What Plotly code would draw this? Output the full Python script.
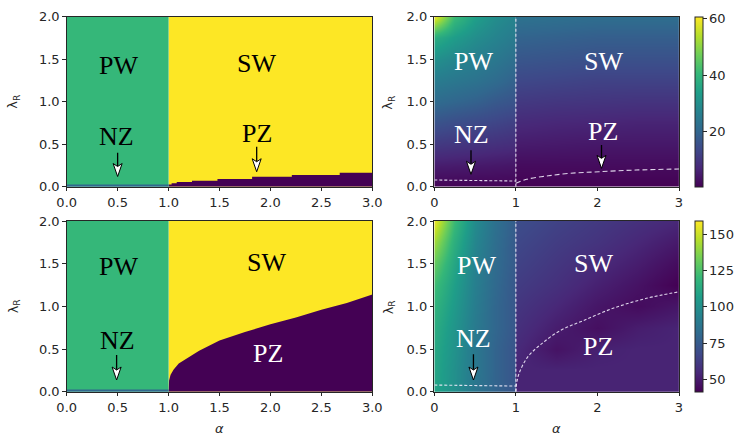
import plotly.graph_objects as go

W, H = 740, 436

# ---- parameter space -------------------------------------------------------
ALPHA_MAX = 3.0
LAM_MAX = 2.0
ALPHA_C = 1.0          # critical alpha separating PW / SW
NZ_TOP = 0.025         # thin NZ strip along lambda_R = 0 for alpha < 1

# phase colours (viridis samples for the 4 phases)
C_PZ, C_NZ, C_PW, C_SW = "#440154", "#31688e", "#35b779", "#fde725"

# PZ / SW boundary, weak coupling case (upper row)
pz_top_alpha = [1.0, 1.03, 1.08, 1.23, 1.48, 1.82, 2.21, 2.68, 3.0]
pz_top_lam = [0.027, 0.04, 0.055, 0.071, 0.091, 0.118, 0.138, 0.165, 0.165]

# PZ / SW boundary, strong coupling case (lower row)
pz_bot_alpha = [1.0, 1.005, 1.02, 1.05, 1.1, 1.2, 1.3, 1.5, 1.75, 2.0, 2.25, 2.5, 2.75, 3.0]
pz_bot_lam = [0.0, 0.13, 0.2, 0.26, 0.33, 0.41, 0.48, 0.6, 0.7, 0.79, 0.87, 0.96, 1.04, 1.14]

# dashed phase lines drawn on the colour maps
nz_line_alpha = [0.0, 1.0]
nz_line_lam_top = [0.079, 0.067]
nz_line_lam_bot = [0.078, 0.066]
pz_curve_top_alpha = [1.0, 1.13, 1.38, 1.66, 2.02, 2.47, 3.0]
pz_curve_top_lam = [0.04, 0.087, 0.126, 0.157, 0.176, 0.196, 0.208]
pz_curve_bot_alpha = [1.0, 1.01, 1.04, 1.14, 1.3, 1.55, 1.82, 2.2, 2.6, 3.0]
pz_curve_bot_lam = [0.0, 0.1, 0.215, 0.40, 0.55, 0.72, 0.83, 0.98, 1.094, 1.17]

# ---- colour-map samples ----------------------------------------------------
lam_grid = [0.0, 0.25, 0.5, 0.75, 1.0, 1.25, 1.5, 1.75, 2.0]
alpha_grid_pw = [0.0, 0.25, 0.5, 0.75, 1.0]
alpha_grid_sw = [1.0, 1.5, 2.0, 2.5, 3.0]

# upper map (rows: lam_grid, columns: alpha grid)
map_top_pw = [
    [1.2, 1.2, 1.2, 1.2, 1.2],
    [5.4, 5.1, 4.8, 4.5, 4.2],
    [10.8, 10.2, 9.6, 9.0, 8.4],
    [16.2, 15.0, 14.1, 13.2, 12.0],
    [21.6, 20.4, 19.2, 17.4, 16.2],
    [25.8, 24.6, 23.4, 21.6, 19.2],
    [30.6, 28.2, 26.4, 24.6, 22.2],
    [37.8, 33.6, 30.0, 27.6, 25.2],
    [59.4, 41.4, 34.2, 30.0, 27.6],
]
map_top_sw = [
    [0.6, 0.6, 0.6, 0.6, 0.6],
    [2.4, 2.4, 2.4, 2.4, 2.4],
    [5.1, 4.8, 4.5, 4.5, 4.5],
    [7.8, 7.2, 6.9, 6.6, 6.6],
    [10.8, 10.2, 9.9, 9.6, 9.6],
    [13.8, 13.2, 12.6, 12.6, 12.6],
    [16.8, 16.2, 15.6, 15.6, 15.6],
    [19.8, 19.2, 18.6, 18.6, 18.6],
    [23.4, 22.8, 22.2, 22.2, 22.2],
]
# lower map
map_bot_pw = [
    [109.7, 100.3, 87.3, 79.1, 72.0],
    [110.9, 100.3, 88.5, 79.1, 72.0],
    [112.1, 101.5, 88.5, 79.1, 72.0],
    [114.4, 102.7, 89.7, 80.3, 73.2],
    [118.0, 105.0, 90.9, 80.3, 73.2],
    [122.7, 107.4, 92.1, 81.5, 73.2],
    [130.9, 110.9, 93.2, 82.6, 74.4],
    [142.7, 115.6, 95.6, 83.8, 74.4],
    [156.8, 121.5, 98.0, 85.0, 75.6],
]
map_bot_sw = [
    [53.2, 53.2, 53.2, 53.2, 53.2],
    [53.2, 53.2, 53.2, 53.2, 53.2],
    [55.5, 47.3, 52.0, 53.2, 53.2],
    [57.9, 50.8, 46.1, 50.8, 53.2],
    [60.2, 54.4, 48.5, 44.9, 48.5],
    [62.6, 57.9, 52.0, 47.3, 41.4],
    [65.0, 60.2, 55.5, 50.8, 44.9],
    [67.3, 62.6, 59.1, 54.4, 49.6],
    [69.7, 65.0, 61.4, 57.9, 54.4],
]
cbar_top = dict(cmin=0.6, cmax=60.6, ticks=[20, 40, 60])
cbar_bot = dict(cmin=41.4, cmax=159.2, ticks=[50, 75, 100, 125, 150])

# ---- text labels: (text, alpha, lambda, colour) ----------------------------
labels = {
    1: [("PW", 0.507, 1.43, "black"), ("SW", 1.865, 1.45, "black"),
        ("NZ", 0.49, 0.59, "black"), ("PZ", 1.87, 0.63, "black")],
    2: [("PW", 0.478, 1.47, "white"), ("SW", 2.07, 1.47, "white"),
        ("NZ", 0.46, 0.61, "white"), ("PZ", 2.07, 0.655, "white")],
    3: [("PW", 0.507, 1.465, "black"), ("SW", 1.96, 1.51, "black"),
        ("NZ", 0.50, 0.605, "black"), ("PZ", 1.98, 0.45, "white")],
    4: [("PW", 0.52, 1.48, "white"), ("SW", 1.95, 1.50, "white"),
        ("NZ", 0.48, 0.625, "white"), ("PZ", 2.01, 0.53, "white")],
}
# arrows: (alpha, tail lambda, tip lambda)
arrows = {
    1: [(0.50, 0.40, 0.12), (1.865, 0.47, 0.176)],
    2: [(0.45, 0.43, 0.146), (2.05, 0.49, 0.216)],
    3: [(0.49, 0.43, 0.137)],
    4: [(0.48, 0.44, 0.137)],
}

# ---- panel geometry (pixels) -----------------------------------------------
COL_X = [(66.7, 372.3), (434.3, 679.0)]
ROW_Y = [(16.7, 186.7), (221.0, 391.7)]
CBAR_X = 695.0

fig = go.Figure()


def ax_names(i):
    return ("x" if i == 1 else f"x{i}"), ("y" if i == 1 else f"y{i}")


def add_poly(i, xs, ys, color, shape="linear", fill="toself"):
    xa, ya = ax_names(i)
    fig.add_trace(go.Scatter(
        x=xs, y=ys, mode="lines", fill=fill, fillcolor=color,
        line=dict(width=0, shape=shape, color=color),
        hoverinfo="skip", showlegend=False, xaxis=xa, yaxis=ya))


def add_rect(i, x0, x1, y0, y1, color):
    add_poly(i, [x0, x1, x1, x0, x0], [y0, y0, y1, y1, y0], color)


def add_dashed(i, xs, ys, dash, shape="linear"):
    xa, ya = ax_names(i)
    fig.add_trace(go.Scatter(
        x=xs, y=ys, mode="lines",
        line=dict(color="rgba(240,235,250,0.9)", width=1.1, dash=dash, shape=shape),
        hoverinfo="skip", showlegend=False, xaxis=xa, yaxis=ya))


def add_field(i, xs, ys, z, cax):
    xa, ya = ax_names(i)
    fig.add_trace(go.Contour(
        x=xs, y=ys, z=z, coloraxis=cax,
        contours=dict(coloring="heatmap", showlines=False), line=dict(width=0),
        hoverinfo="skip", xaxis=xa, yaxis=ya))


# phase diagrams (left column)
for i, (bx, by) in ((1, (pz_top_alpha, pz_top_lam)), (3, (pz_bot_alpha, pz_bot_lam))):
    add_rect(i, ALPHA_C, ALPHA_MAX, 0, LAM_MAX, C_SW)
    add_poly(i, bx, by, C_PZ, shape="hv" if i == 1 else "linear", fill="tozeroy")
    add_rect(i, 0, ALPHA_C, 0, LAM_MAX, C_PW)
    add_rect(i, 0, ALPHA_C, 0, NZ_TOP, C_NZ)

# colour maps (right column)
add_field(2, alpha_grid_pw, lam_grid, map_top_pw, "coloraxis")
add_field(2, alpha_grid_sw, lam_grid, map_top_sw, "coloraxis")
add_field(4, alpha_grid_pw, lam_grid, map_bot_pw, "coloraxis2")
add_field(4, alpha_grid_sw, lam_grid, map_bot_sw, "coloraxis2")

for i, nz_lam, cx, cy in ((2, nz_line_lam_top, pz_curve_top_alpha, pz_curve_top_lam),
                         (4, nz_line_lam_bot, pz_curve_bot_alpha, pz_curve_bot_lam)):
    add_dashed(i, [ALPHA_C, ALPHA_C], [0, LAM_MAX], "3px,2px")
    add_dashed(i, nz_line_alpha, nz_lam, "3px,2px")
    add_dashed(i, cx, cy, "5px,3px" if i == 2 else "3px,2px", shape="spline")

# arrows: black shaft + white notched head with black outline
HEAD_H_PX, HEAD_W_PX, NOTCH_PX = 13.0, 4.5, 3.0
for i, items in arrows.items():
    col = 0 if i in (1, 3) else 1
    row = 0 if i in (1, 2) else 1
    ppx = (COL_X[col][1] - COL_X[col][0]) / ALPHA_MAX
    ppy = (ROW_Y[row][1] - ROW_Y[row][0]) / LAM_MAX
    xa, ya = ax_names(i)
    for (ax_, tail, tip) in items:
        hh = HEAD_H_PX / ppy
        hw = HEAD_W_PX / ppx
        nt = NOTCH_PX / ppy
        fig.add_trace(go.Scatter(
            x=[ax_, ax_], y=[tail, tip + hh - nt], mode="lines",
            line=dict(color="black", width=1.3), hoverinfo="skip",
            showlegend=False, xaxis=xa, yaxis=ya))
        fig.add_trace(go.Scatter(
            x=[ax_ - hw, ax_, ax_ + hw, ax_, ax_ - hw],
            y=[tip + hh, tip + hh - nt, tip + hh, tip, tip + hh],
            mode="lines", fill="toself", fillcolor="white",
            line=dict(color="black", width=1), hoverinfo="skip",
            showlegend=False, xaxis=xa, yaxis=ya))

# ---- layout ----------------------------------------------------------------
TXT = "#262626"
tickfont = dict(family="DejaVu Sans", size=13, color=TXT)
axis_common = dict(showline=True, linecolor=TXT, linewidth=1, mirror=True,
                   ticks="outside", ticklen=3.5, tickwidth=1, tickcolor=TXT,
                   tickfont=tickfont, showgrid=False, zeroline=False,
                   automargin=False)

layout = dict(width=W, height=H, margin=dict(l=0, r=0, t=0, b=0, pad=0, autoexpand=False),
              paper_bgcolor="white", plot_bgcolor="white", showlegend=False)

for i in range(1, 5):
    col = 0 if i in (1, 3) else 1
    row = 0 if i in (1, 2) else 1
    xd = [COL_X[col][0] / W, COL_X[col][1] / W]
    yd = [1 - ROW_Y[row][1] / H, 1 - ROW_Y[row][0] / H]
    xkey = "xaxis" if i == 1 else f"xaxis{i}"
    ykey = "yaxis" if i == 1 else f"yaxis{i}"
    xa, ya = ax_names(i)
    if col == 0:
        xt = dict(tickvals=[0, 0.5, 1, 1.5, 2, 2.5, 3], tickformat=".1f")
    else:
        xt = dict(tickvals=[0, 1, 2, 3], tickformat="d")
    layout[xkey] = dict(axis_common, domain=xd, range=[0, ALPHA_MAX], anchor=ya, **xt)
    layout[ykey] = dict(axis_common, domain=yd, range=[0, LAM_MAX], anchor=xa,
                        tickvals=[0, 0.5, 1, 1.5, 2], tickformat=".1f")


def cbar(spec, row):
    y0, y1 = 1 - ROW_Y[row][1] / H, 1 - ROW_Y[row][0] / H
    return dict(cmin=spec["cmin"], cmax=spec["cmax"], colorscale="Viridis",
                colorbar=dict(x=CBAR_X / W, xanchor="left", xpad=0, ypad=0,
                              y=(y0 + y1) / 2, yanchor="middle", len=y1 - y0,
                              lenmode="fraction", thickness=8, outlinewidth=1,
                              outlinecolor=TXT, ticks="outside", ticklen=3.5,
                              tickcolor=TXT, tickvals=spec["ticks"],
                              tickfont=tickfont))


layout["coloraxis"] = cbar(cbar_top, 0)
layout["coloraxis2"] = cbar(cbar_bot, 1)

ann = []
for i, items in labels.items():
    xa, ya = ax_names(i)
    for text, x, y, c in items:
        ann.append(dict(text=text, x=x, y=y, xref=xa, yref=ya, showarrow=False,
                        xanchor="center", yanchor="middle",
                        font=dict(family="Liberation Serif", size=26, color=c)))
# axis titles
for row in (0, 1):
    yc = 1 - (ROW_Y[row][0] + ROW_Y[row][1]) / 2 / H
    for xpx in (14, 389):
        ann.append(dict(text="λ<sub>R</sub>", x=xpx / W, y=yc, xref="paper", yref="paper",
                        showarrow=False, textangle=-90, xanchor="center", yanchor="middle",
                        font=dict(family="DejaVu Sans", size=13, color=TXT)))
for col in (0, 1):
    xc = (COL_X[col][0] + COL_X[col][1]) / 2 / W
    ann.append(dict(text="<i>α</i>", x=xc, y=1 - 428 / H, xref="paper", yref="paper",
                    showarrow=False, xanchor="center", yanchor="middle",
                    font=dict(family="DejaVu Sans", size=13, color=TXT)))
layout["annotations"] = ann

fig.update_layout(**layout)
fig.write_html("out.html")
